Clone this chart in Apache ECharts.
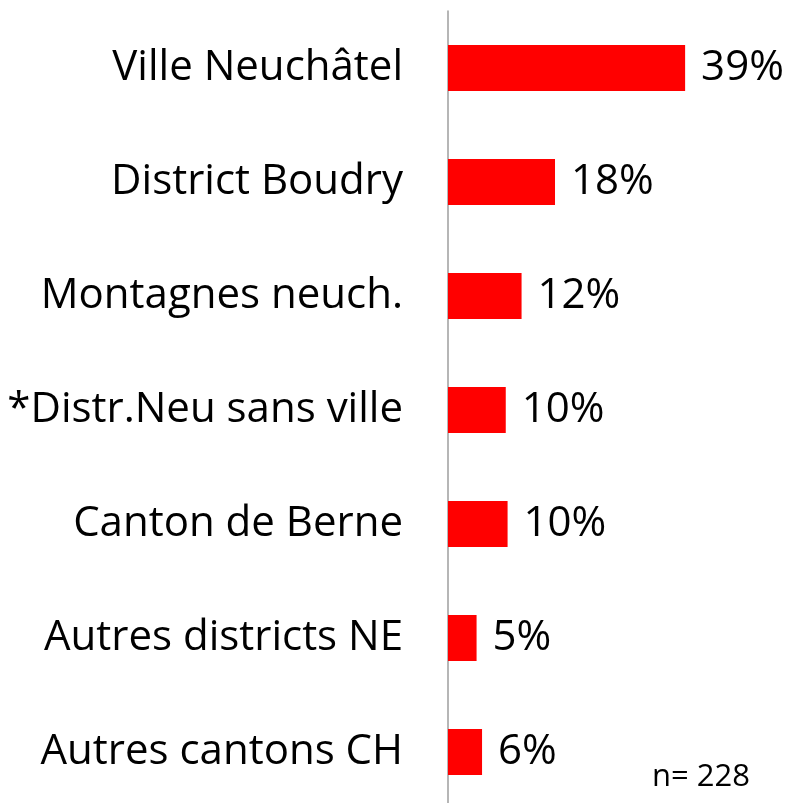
<!DOCTYPE html>
<html>
<head>
<meta charset="utf-8">
<script src="https://cdn.jsdelivr.net/npm/echarts@6/dist/echarts.min.js"></script>
<style>
  html, body { margin: 0; padding: 0; background: #fff; overflow: hidden; }
  #chart { width: 791px; height: 815px; }
</style>
</head>
<body>
<div id="chart"></div>
<script>
// régions
var regions = ['Ville Neuchâtel', 'District Boudry', 'Montagnes neuch.', '*Distr.Neu sans ville', 'Canton de Berne', 'Autres districts NE', 'Autres cantons CH'];
var shares = [39, 17.6, 12.1, 9.5, 9.8, 4.7, 5.6];
var sampleNote = 'n= 228';

var fontFamily = '"Open Sans", sans-serif';

var option = {
    animation: false,
    grid: {
        left: 448,
        top: 11,
        width: 304,
        height: 798
    },
    xAxis: {
        type: 'value',
        min: 0,
        max: 50,
        show: false
    },
    yAxis: {
        type: 'category',
        data: regions,
        inverse: true,
        axisLine: { show: true, lineStyle: { color: '#9e9e9e', width: 1.5 } },
        axisTick: { show: false },
        axisLabel: {
            margin: 45,
            color: '#000',
            fontSize: 42,
            fontFamily: fontFamily
        }
    },
    series: [{
        type: 'bar',
        data: shares,
        barWidth: 46,
        itemStyle: { color: '#ff0000' },
        label: {
            show: true,
            position: 'right',
            distance: 16,
            color: '#000',
            fontSize: 42,
            fontFamily: fontFamily,
            formatter: function (p) { return Math.round(p.value) + '%'; }
        }
    }],
    graphic: [{
        type: 'text',
        left: 652,
        top: 762,
        style: {
            text: sampleNote,
            fill: '#000',
            fontSize: 31,
            fontFamily: fontFamily
        }
    }]
};

echarts.init(document.getElementById('chart')).setOption(option);
</script>
</body>
</html>
